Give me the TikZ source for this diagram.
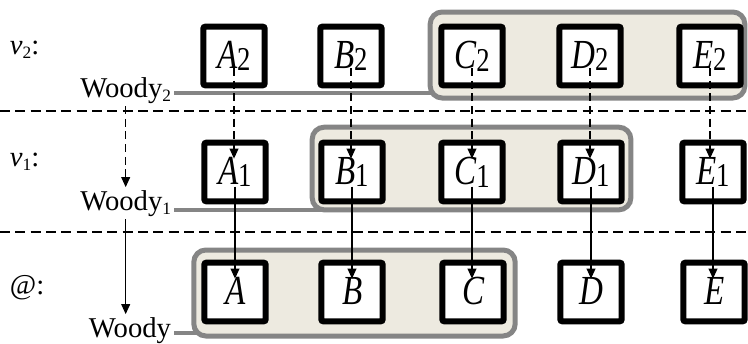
\documentclass[tikz,border=0pt]{standalone}
\usepackage{fontspec}
\setmainfont{Liberation Serif}
\usetikzlibrary{arrows.meta}
\definecolor{groupfill}{HTML}{EDEAE0}
\definecolor{groupline}{HTML}{858585}
\newcommand{\cellname}[2]{\scalebox{0.8}[1]{\textit{#1}\kern-0.5pt\raisebox{-2pt}{\fontsize{25}{25}\selectfont #2}}}
\newcommand{\lowsub}[1]{\raisebox{-3pt}{\fontsize{13}{13}\selectfont #1}}

\begin{document}
\begin{tikzpicture}[x=0.75pt,y=-0.75pt]
\tikzset{cell/.style = {shape=rectangle,draw,line width=4.5pt,rounded corners=1.5pt,fill=white,
minimum width=46pt,minimum height=44pt,inner sep=0pt,font=\fontsize{31}{31}\selectfont}}
\tikzset{group/.style = {shape=rectangle,draw=groupline,line width=3.75pt,fill=groupfill,
rounded corners=9pt,inner sep=0pt}}
\tikzset{woody/.style = {inner sep=2pt,font=\fontsize{21.5}{21.5}\selectfont}}
\tikzset{level/.style = {inner sep=2pt,anchor=west,font=\fontsize{21.5}{21.5}\selectfont}}
\tikzset{link/.style = {draw=groupline,line width=3pt}}
\tikzset{edge/.style = {->,line width=1.2pt,>={Triangle[length=7.5pt,width=6.5pt]}}}
\tikzset{hop/.style = {dash pattern=on 6pt off 3.5pt}}
\tikzset{sep/.style = {line width=1.1pt,dash pattern=on 7.5pt off 4pt}}
\useasboundingbox (0,0) rectangle (748,343);
% levels
\node[level] (v2) at (7,50) {\textit{v}\lowsub{2}:};
\node[level] (v1) at (7,162) {\textit{v}\lowsub{1}:};
\node[level] (v0) at (7,288) {@:};
\coordinate (s1l) at (0,111);
\coordinate (s1r) at (748,111);
\coordinate (s0l) at (0,232);
\coordinate (s0r) at (748,232);
\draw[sep] (s1l) -- (s1r);
\draw[sep] (s0l) -- (s0r);
% groups
\node[group,minimum width=236pt,minimum height=64.5pt] (g2) at (587.5,55) {};
\node[group,minimum width=239pt,minimum height=62pt] (g1) at (471.5,168.5) {};
\node[group,minimum width=241pt,minimum height=64.5pt] (g0) at (354.5,293) {};
% cells
\node[cell] (a2) at (234,56) {\cellname{A}{2}};
\node[cell] (b2) at (351,56) {\cellname{B}{2}};
\node[cell] (c2) at (472,56) {\cellname{C}{2}};
\node[cell] (d2) at (590,56) {\cellname{D}{2}};
\node[cell] (e2) at (710,56) {\cellname{E}{2}};
\node[cell] (a1) at (235,172) {\cellname{A}{1}};
\node[cell] (b1) at (352,172) {\cellname{B}{1}};
\node[cell] (c1) at (472,172) {\cellname{C}{1}};
\node[cell] (d1) at (591,172) {\cellname{D}{1}};
\node[cell] (e1) at (713,172) {\cellname{E}{1}};
\node[cell] (a0) at (235,292) {\cellname{A}{}};
\node[cell] (b0) at (352,292) {\cellname{B}{}};
\node[cell] (c0) at (473,292) {\cellname{C}{}};
\node[cell] (d0) at (591,292) {\cellname{D}{}};
\node[cell] (e0) at (714,292) {\cellname{E}{}};
% woody
\node[woody,anchor=base east] (w2) at (174,97) {Woody\lowsub{2}};
\node[woody,anchor=base east] (w1) at (174,210) {Woody\lowsub{1}};
\node[woody,anchor=base east] (w0) at (174,337) {Woody};
\coordinate (w2r) at ([yshift=3pt]w2.base east);
\coordinate (w0r) at ([yshift=3pt]w0.base east);
\draw[link,shorten >=-3pt] (w2r) -- (w2r -| g2.west);
\draw[link] (w1.base east) -- (w1.base east -| g1.south);
\draw[link,shorten >=-4pt] (w0r) -- (w0r -| g0.west);
% edges
\draw[edge,hop] (w2) -- (w1);
\draw[edge] (w1.south) -- (w1.south |- w0.north);
\draw[edge,hop] ([yshift=-9pt]a2.center) -- ([yshift=10pt]a2.center |- a1.center);
\draw[edge,hop] ([yshift=-9pt]b2.center) -- ([yshift=10pt]b2.center |- b1.center);
\draw[edge,hop] ([yshift=-9pt]c2.center) -- ([yshift=10pt]c2.center |- c1.center);
\draw[edge,hop] ([yshift=-9pt]d2.center) -- ([yshift=10pt]d2.center |- d1.center);
\draw[edge,hop] ([yshift=-9pt]e2.center) -- ([yshift=10pt]e2.center |- e1.center);
\draw[edge] ([yshift=-11pt]a1.center) -- ([yshift=10pt]a1.center |- a0.center);
\draw[edge] ([yshift=-11pt]b1.center) -- ([yshift=10pt]b1.center |- b0.center);
\draw[edge] ([yshift=-11pt]c1.center) -- ([yshift=10pt]c1.center |- c0.center);
\draw[edge] ([yshift=-11pt]d1.center) -- ([yshift=10pt]d1.center |- d0.center);
\draw[edge] ([yshift=-11pt]e1.center) -- ([yshift=10pt]e1.center |- e0.center);
\end{tikzpicture}
\end{document}
